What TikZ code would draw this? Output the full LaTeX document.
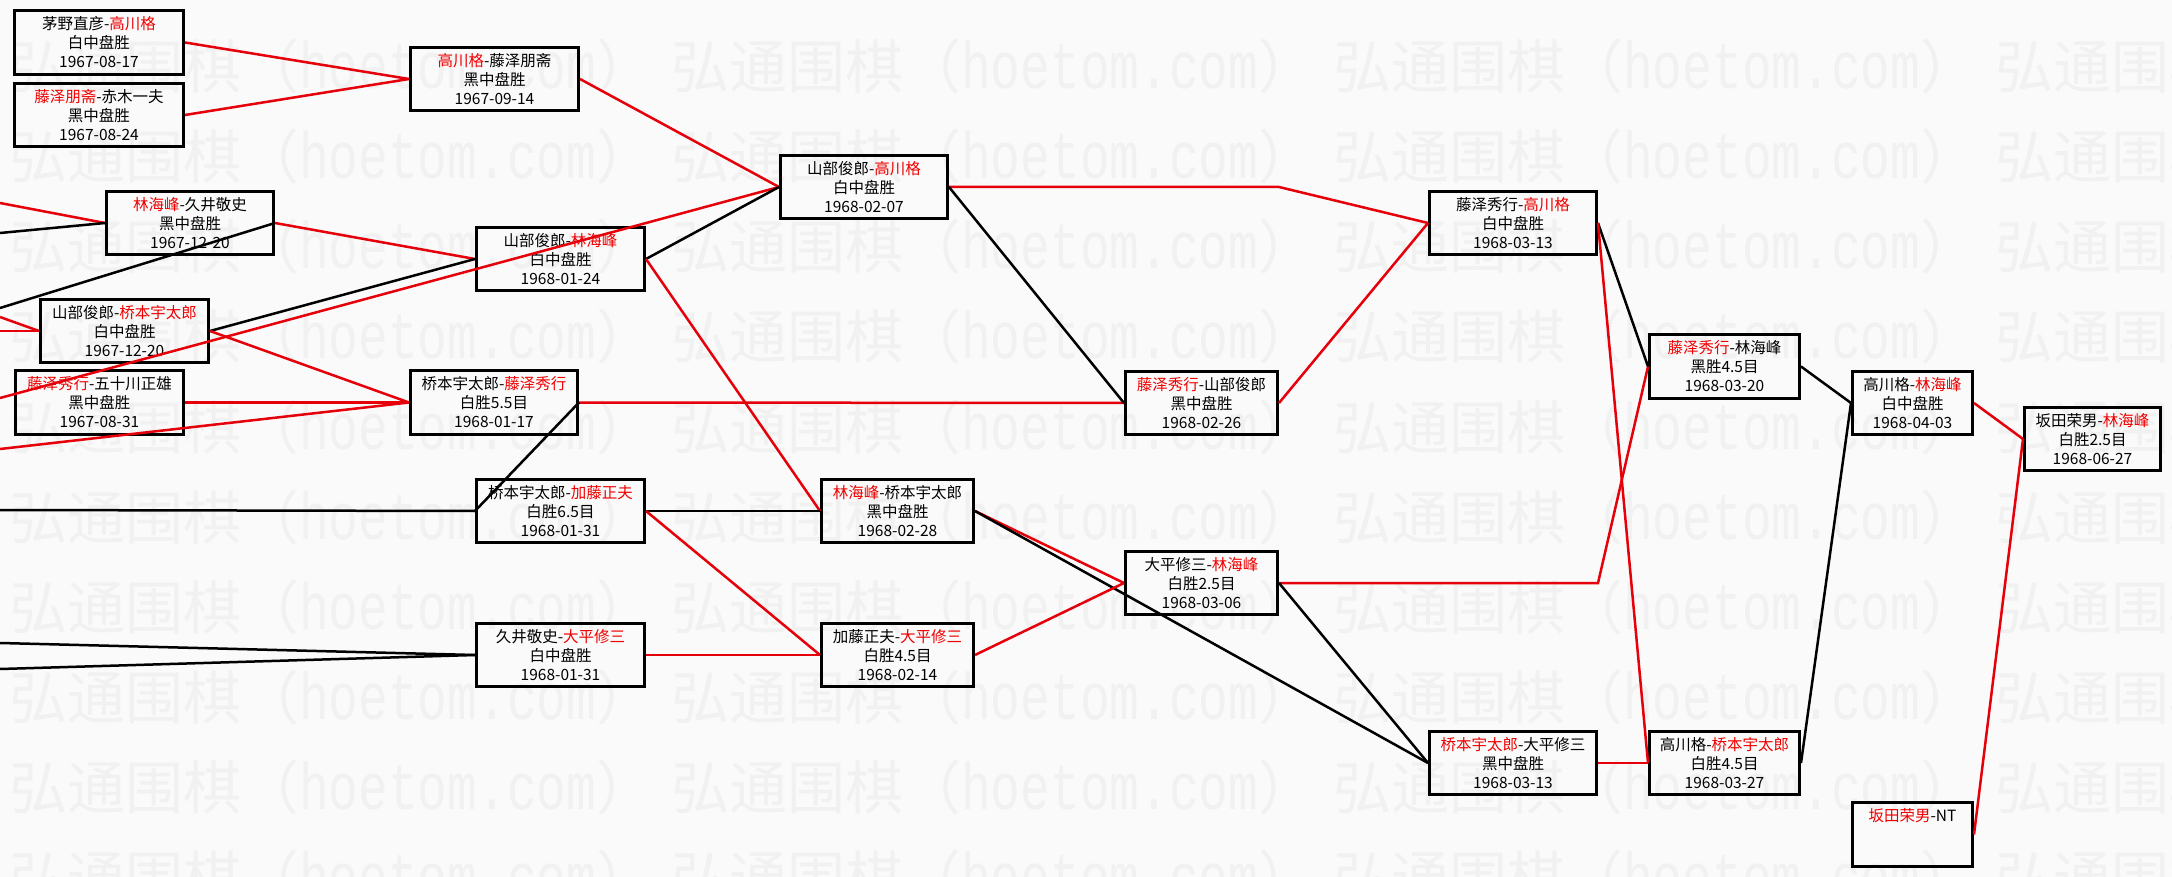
\documentclass[tikz,border=0pt]{standalone}
\usepackage{fontspec}
\usepackage{graphicx}
\setmainfont{Noto Sans CJK SC}
\newfontfamily\wmcjk{Noto Sans CJK SC}
\newfontfamily\wmlat{Liberation Mono}
\definecolor{wred}{RGB}{240,0,0}
\definecolor{lred}{RGB}{230,0,10}
\definecolor{bgc}{RGB}{250,250,250}
\definecolor{wmc}{RGB}{241,241,241}
\newcommand{\rd}[1]{\textcolor{wred}{#1}}
\newcommand{\wmunit}{{\wmcjk\fontsize{58}{58}\selectfont 弘通围棋（}\scalebox{0.75}[1]{\wmlat\fontsize{66}{66}\selectfont hoetom.com}{\wmcjk\fontsize{58}{58}\selectfont ）}}
\begin{document}
\begin{tikzpicture}[x=1pt,y=-1pt,
  box/.style={draw=black, line width=3pt, rectangle, inner sep=0pt,
    minimum height=63.5pt, align=center, font=\fontsize{15.5}{19}\selectfont},
  win/.style={draw=lred, line width=2.5pt},
  lose/.style={draw=black, line width=2.5pt},
  wm/.style={anchor=base west, inner sep=0pt, text=wmc}]
\fill[bgc] (0,0) rectangle (2172,877);
\useasboundingbox (0,0) rectangle (2172,877);
% watermark
\foreach \r in {0,...,9}{
  \foreach \c in {0,...,3}{
    \node[wm] (wm-\r-\c) at ({9+662*\c},{89+90*\r}) {\wmunit};
  }
}
% boxes
\node[box, minimum width=169pt] (b1) at (99,42.5) {茅野直彦-\rd{高川格}\\白中盘胜\\1967-08-17};
\node[box, minimum width=169pt] (b2) at (99,115) {\rd{藤泽朋斋}-赤木一夫\\黑中盘胜\\1967-08-24};
\node[box, minimum width=168pt] (b3) at (494.5,79) {\rd{高川格}-藤泽朋斋\\黑中盘胜\\1967-09-14};
\node[box, minimum width=167pt] (b4) at (190,223) {\rd{林海峰}-久井敬史\\黑中盘胜\\1967-12-20};
\node[box, minimum width=168pt] (b5) at (124.5,331) {山部俊郎-\rd{桥本宇太郎}\\白中盘胜\\1967-12-20};
\node[box, minimum width=168pt] (b6) at (99.5,402.5) {\rd{藤泽秀行}-五十川正雄\\黑中盘胜\\1967-08-31};
\node[box, minimum width=168pt] (b7) at (560.5,259) {山部俊郎-\rd{林海峰}\\白中盘胜\\1968-01-24};
\node[box, minimum width=167pt] (b8) at (864,187) {山部俊郎-\rd{高川格}\\白中盘胜\\1968-02-07};
\node[box, minimum width=167pt] (b9) at (494,402.5) {桥本宇太郎-\rd{藤泽秀行}\\白胜5.5目\\1968-01-17};
\node[box, minimum width=168pt] (b10) at (560.5,511) {桥本宇太郎-\rd{加藤正夫}\\白胜6.5目\\1968-01-31};
\node[box, minimum width=152pt] (b11) at (897.5,511) {\rd{林海峰}-桥本宇太郎\\黑中盘胜\\1968-02-28};
\node[box, minimum width=152pt] (b12) at (897.5,655) {加藤正夫-\rd{大平修三}\\白胜4.5目\\1968-02-14};
\node[box, minimum width=168pt] (b13) at (560.5,655) {久井敬史-\rd{大平修三}\\白中盘胜\\1968-01-31};
\node[box, minimum width=152pt] (b14) at (1201.5,403) {\rd{藤泽秀行}-山部俊郎\\黑中盘胜\\1968-02-26};
\node[box, minimum width=152pt] (b15) at (1201.5,583) {大平修三-\rd{林海峰}\\白胜2.5目\\1968-03-06};
\node[box, minimum width=167pt] (b16) at (1513,223) {藤泽秀行-\rd{高川格}\\白中盘胜\\1968-03-13};
\node[box, minimum width=167pt] (b17) at (1513,763) {\rd{桥本宇太郎}-大平修三\\黑中盘胜\\1968-03-13};
\node[box, minimum width=150pt] (b18) at (1724.5,366.5) {\rd{藤泽秀行}-林海峰\\黑胜4.5目\\1968-03-20};
\node[box, minimum width=150pt] (b19) at (1724.5,763) {高川格-\rd{桥本宇太郎}\\白胜4.5目\\1968-03-27};
\node[box, minimum width=120pt] (b20) at (1912.5,403) {高川格-\rd{林海峰}\\白中盘胜\\1968-04-03};
\node[box, minimum width=136pt] (b21) at (2092.5,439) {坂田荣男-\rd{林海峰}\\白胜2.5目\\1968-06-27};
\node[box, minimum width=120pt] (b22) at (1912.5,834.5) {\rd{坂田荣男}-NT\\\phantom{白中盘胜}\\\phantom{1968-06-27}};
% free ends at the left edge
\coordinate (L1) at (0,203);
\coordinate (L2) at (0,233);
\coordinate (L3) at (0,308);
\coordinate (L4) at (0,317);
\coordinate (L5) at (0,331);
\coordinate (L6) at (0,398);
\coordinate (L7) at (0,449);
\coordinate (L8) at (0,510);
\coordinate (L9) at (0,643);
\coordinate (L10) at (0,669);
% bends
\coordinate (k1) at (1279,187);
\coordinate (k2) at (1598,583);
% connectors
\draw[win] (L1) -- (b4.west);
\draw[lose] (L2) -- (b4.west);
\draw[lose] (b4.east) -- (L3);
\draw[win] (L4) -- (b5.west);
\draw[win] (L5) -- (b5.west);
\draw[win] (L6) -- (b8.west);
\draw[win] (L7) -- (b9.west);
\draw[lose] (L8) -- (b10.west);
\draw[lose] (L9) -- (b13.west);
\draw[lose] (L10) -- (b13.west);
\draw[win] (b1.east) -- (b3.west);
\draw[win] (b2.east) -- (b3.west);
\draw[win] (b3.east) -- (b8.west);
\draw[win] (b4.east) -- (b7.west);
\draw[lose] (b5.east) -- (b7.west);
\draw[win] (b5.east) -- (b9.west);
\draw[win] (b6.east) -- (b9.west);
\draw[lose] (b7.east) -- (b8.west);
\draw[win] (b7.east) -- (b11.west);
\draw[win] (b9.east) -- (b14.west);
\draw[lose] (b9.east) -- (b10.west);
\draw[lose] (b10.east) -- (b11.west);
\draw[win] (b10.east) -- (b12.west);
\draw[win] (b13.east) -- (b12.west);
\draw[win] (b8.east) -- (k1) -- (b16.west);
\draw[lose] (b8.east) -- (b14.west);
\draw[win] (b11.east) -- (b15.west);
\draw[lose] (b11.east) -- (b17.west);
\draw[win] (b12.east) -- (b15.west);
\draw[win] (b14.east) -- (b16.west);
\draw[win] (b15.east) -- (k2) -- (b18.west);
\draw[lose] (b15.east) -- (b17.west);
\draw[lose] (b16.east) -- (b18.west);
\draw[win] (b16.east) -- (b19.west);
\draw[win] (b17.east) -- (b19.west);
\draw[lose] (b18.east) -- (b20.west);
\draw[lose] (b19.east) -- (b20.west);
\draw[win] (b20.east) -- (b21.west);
\draw[win] (b22.east) -- (b21.west);
\end{tikzpicture}
\end{document}
